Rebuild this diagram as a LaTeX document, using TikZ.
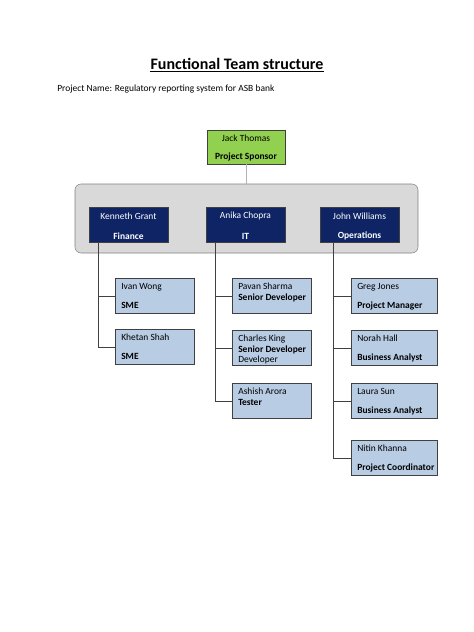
\documentclass[tikz,border=0pt]{standalone}
\usepackage{fontspec}
\setmainfont{Carlito}
\definecolor{sponsorgreen}{HTML}{92D050}
\definecolor{headnavy}{HTML}{0E2465}
\definecolor{staffblue}{HTML}{B8CCE4}
\definecolor{panelgrey}{HTML}{D9D9D9}
\definecolor{edgegrey}{HTML}{404040}
\newlength{\px}
\setlength{\px}{0.75pt}
\tikzset{
    headbox/.style={draw=edgegrey, fill=headnavy, minimum width=79\px, minimum height=35\px, inner sep=0pt},
    staffbox/.style={draw=edgegrey, fill=staffblue, anchor=north west, minimum width=79\px, minimum height=35\px, inner sep=0pt},
    boxtext/.style={anchor=base west, inner sep=0pt, font=\fontsize{7.1}{8}\selectfont},
    boxrole/.style={boxtext, font=\fontsize{7.1}{8}\selectfont\bfseries},
    branch/.style={draw=edgegrey, thin},
}
\begin{document}
\begin{tikzpicture}[x=0.75pt, y=-0.75pt]
    \useasboundingbox (0,0) rectangle (474,632);
    % title
    \node[inner sep=0pt, anchor=base, font=\fontsize{12}{14}\selectfont\bfseries] (title) at (237,69) {Functional Team structure};
    \draw[line width=0.8pt] ([yshift=-1.5pt]title.south west) -- ([yshift=-1.5pt]title.south east);
    \node[boxtext] (project) at (57,91) {Project Name: Regulatory reporting system for ASB bank};
    % sponsor
    \node[headbox, fill=sponsorgreen, minimum width=78\px, minimum height=34\px] (jack) at (246,147) {};
    \node[font=\fontsize{7.1}{8}\selectfont] at (246,138) {Jack Thomas};
    \node[font=\fontsize{7.1}{8}\selectfont\bfseries] at (246,157) {Project Sponsor};
    % grey panel
    \node[draw=gray, fill=panelgrey, rounded corners=6\px, minimum width=343\px, minimum height=69\px, inner sep=0pt] (panel) at (246.5,218.5) {};
    \draw[gray!60] (jack.south) -- (jack.south |- panel.north);
    % heads
    \foreach \name/\who/\dept/\x in {kenneth/Kenneth Grant/Finance/128.5, anika/Anika Chopra/IT/245.5, john/John Williams/Operations/359.5}
    {
        \node[headbox] (\name) at (\x,225) {};
        \node[text=white, font=\fontsize{7.1}{8}\selectfont] at (\x,216) {\who};
        \node[text=white, font=\fontsize{7.1}{8}\selectfont\bfseries] at (\x,236) {\dept};
    }
    % finance
    \node[staffbox] (ivan) at (115,278) {};
    \node[boxtext] at (121,289) {Ivan Wong};
    \node[boxrole] at (121,308) {SME};
    \node[staffbox] (khetan) at (115,329) {};
    \node[boxtext] at (121,340) {Khetan Shah};
    \node[boxrole] at (121,359) {SME};
    % IT
    \node[staffbox] (pavan) at (232,278) {};
    \node[boxtext] at (238,289) {Pavan Sharma};
    \node[boxrole] at (238,300) {Senior Developer};
    \node[staffbox] (charles) at (232,330) {};
    \node[boxtext] at (238,341) {Charles King};
    \node[boxrole] at (238,352) {Senior Developer};
    \node[boxtext] at (238,362) {Developer};
    \node[staffbox] (ashish) at (232,383) {};
    \node[boxtext] at (238,394) {Ashish Arora};
    \node[boxrole] at (238,405) {Tester};
    % operations
    \foreach \name/\who/\role/\y in {greg/Greg Jones/Project Manager/278, norah/Norah Hall/Business Analyst/330, laura/Laura Sun/Business Analyst/383, nitin/Nitin Khanna/Project Coordinator/440}
    {
        \node[staffbox, minimum width=86\px] (\name) at (351,\y) {};
        \node[boxtext] at (357,\y+11) {\who};
        \node[boxrole] at (357,\y+30) {\role};
    }
    % connectors
    \draw[branch] ([xshift=10\px]kenneth.south west) |- (ivan.west);
    \draw[branch] ([xshift=10\px]kenneth.south west) |- (khetan.west);
    \draw[branch] ([xshift=10\px]anika.south west) |- (pavan.west);
    \draw[branch] ([xshift=10\px]anika.south west) |- (charles.west);
    \draw[branch] ([xshift=10\px]anika.south west) |- (ashish.west);
    \foreach \name in {greg, norah, laura, nitin}
        \draw[branch] ([xshift=14\px]john.south west) |- (\name.west);
\end{tikzpicture}
\end{document}
